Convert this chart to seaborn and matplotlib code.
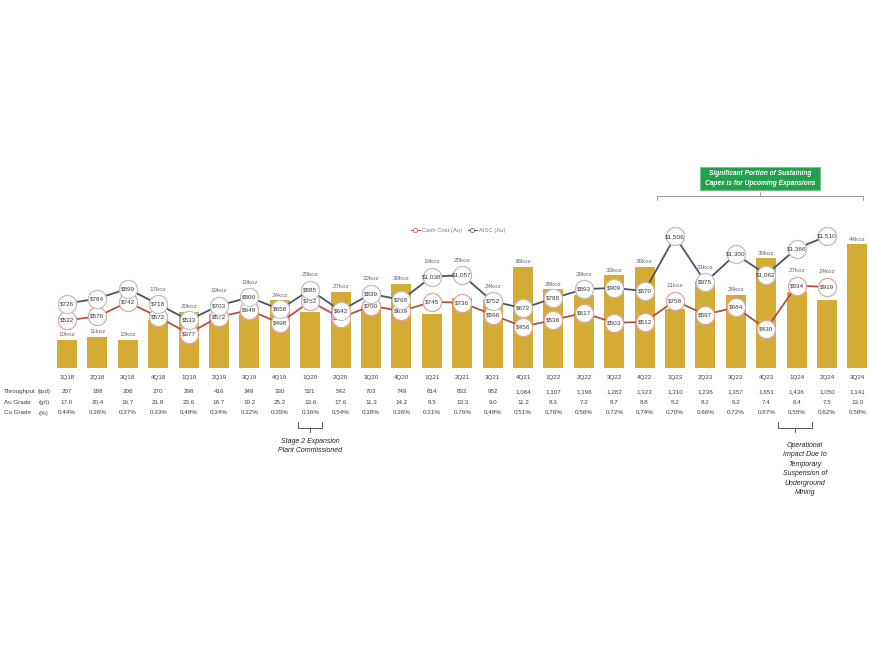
import matplotlib
matplotlib.use("Agg")
import matplotlib.pyplot as plt
from matplotlib.lines import Line2D
from matplotlib.patches import Rectangle
import numpy as np
import pandas as pd
import seaborn as sns

quarters = ["1Q18", "2Q18", "3Q18", "4Q18", "1Q19", "2Q19", "3Q19", "4Q19",
            "1Q20", "2Q20", "3Q20", "4Q20", "1Q21", "2Q21", "3Q21", "4Q21",
            "1Q22", "2Q22", "3Q22", "4Q22", "1Q23", "2Q23", "3Q23", "4Q23",
            "1Q24", "2Q24", "3Q24"]
production_koz = [10, 11, 10, 17, 20, 19, 19, 24, 20, 27, 22, 30, 19, 25, 24, 36,
                  28, 26, 33, 36, 21, 31, 26, 39, 27, 24, 44]
cash_cost = [532, 576, 742, 572, 377, 572, 649, 498, 752, 560, 700, 639, 745, 736,
             596, 456, 536, 617, 503, 512, 758, 597, 684, 430, 934, 919, np.nan]
aisc = [726, 784, 899, 718, 533, 703, 800, 658, 885, 642, 839, 768, 1038, 1057,
        752, 672, 788, 893, 909, 870, 1506, 975, 1300, 1062, 1366, 1510, np.nan]
throughput = ["207", "188", "206", "270", "298", "416", "349", "330", "521", "542",
              "703", "749", "814", "832", "952", "1,084", "1,107", "1,196", "1,282",
              "1,323", "1,310", "1,236", "1,357", "1,651", "1,436", "1,050", "1,141"]
au_grade = ["17.0", "20.4", "16.7", "21.8", "23.6", "16.7", "19.2", "25.2", "13.6",
            "17.6", "11.3", "14.2", "8.5", "10.3", "9.0", "11.2", "8.3", "7.2", "8.7",
            "8.8", "5.2", "8.2", "6.2", "7.4", "6.4", "7.5", "13.0"]
cu_grade = ["0.44%", "0.36%", "0.37%", "0.33%", "0.48%", "0.34%", "0.32%", "0.35%",
            "0.36%", "0.54%", "0.38%", "0.36%", "0.31%", "0.76%", "0.48%", "0.51%",
            "0.76%", "0.56%", "0.72%", "0.74%", "0.70%", "0.66%", "0.72%", "0.87%",
            "0.55%", "0.62%", "0.58%"]
row_labels = ["Throughput", "Au Grade", "Cu Grade"]
row_units = ["(tpd)", "(g/t)", "(%)"]

W, H = 870, 653
X0, DX = 67.0, 30.4           # pixel of first quarter, spacing
ZERO_BAR, PX_KOZ = 367.5, 2.8  # bar baseline pixel, px per koz
ZERO_LINE, PX_USD = 366.0, 0.086

def px_to_x(px):
    return (px - X0) / DX

def py_to_fig(py):
    return 1 - py / H

sns.set_theme(style="white")
plt.rcParams['font.family'] = ['Calibri', 'Carlito', 'Liberation Sans', 'DejaVu Sans']
plt.rcParams['font.family'] = ['Liberation Sans', 'DejaVu Sans']

fig = plt.figure(figsize=(W / 100, H / 100), dpi=100)
ax = fig.add_axes([0, 0, 1, 1])
ax.set_xlim(px_to_x(0), px_to_x(W))
ax.set_ylim((ZERO_BAR - H) / PX_KOZ, ZERO_BAR / PX_KOZ)
ax2 = ax.twinx()
ax2.set_ylim((ZERO_LINE - H) / PX_USD, ZERO_LINE / PX_USD)

idx = np.arange(len(quarters))
df = pd.DataFrame({"i": idx, "q": quarters, "koz": production_koz,
                   "cash": cash_cost, "aisc": aisc})

bar_color = "#D4AB35"
sns.barplot(data=df, x="i", y="koz", native_scale=True, color=bar_color,
            width=0.66, ax=ax, saturation=1, edgecolor="none")

aisc_line = "#4A5568"
cash_line = "#B5523B"
sns.lineplot(data=df, x="i", y="aisc", ax=ax2, color=aisc_line, lw=1.3,
             marker="o", markersize=13, markerfacecolor="white",
             markeredgecolor="#BFBFBF", markeredgewidth=0.8, zorder=4)
sns.lineplot(data=df, x="i", y="cash", ax=ax2, color=cash_line, lw=1.3,
             marker="o", markersize=13, markerfacecolor="white",
             markeredgecolor="#E3A6A6", markeredgewidth=0.8, zorder=3)
# redraw AISC markers so they stay on top of the cash-cost line
for vals, ec, z in [(aisc, "#BFBFBF", 6), (cash_cost, "#E3A6A6", 5)]:
    for i, v in enumerate(vals):
        if np.isnan(v):
            continue
        ax2.plot(i, v, marker="o", ms=13, mfc="white", mec=ec, mew=0.8, zorder=z)
        ax2.text(i, v, f"${v:,.0f}", ha="center", va="center", fontsize=4.6,
                 color="#3A3A3A", zorder=z + 0.5)

for a in (ax, ax2):
    a.set_axis_off()
    a.set_xlabel("")
    a.set_ylabel("")
    if a.get_legend():
        a.get_legend().remove()

# koz labels above bars (moved above circles when they collide)
R = 9.0
for i, k in enumerate(production_koz):
    top_px = ZERO_BAR - k * PX_KOZ
    ly = top_px - 5
    circles = sorted([ZERO_LINE - v * PX_USD for v in (cash_cost[i], aisc[i])
                      if not np.isnan(v)], reverse=True)
    for c in circles:
        if ly + 4 > c - R and ly - 4 < c + R:
            ly = c - R - 6
    ax.text(i, (ZERO_BAR - ly) / PX_KOZ, f"{k}koz", ha="center", va="center",
            fontsize=4.5, color="#6B6B6B")

# table
tc = "#404040"
row_py = [378, 391.5, 402.5, 413]
for i, q in enumerate(quarters):
    ax.text(i, (ZERO_BAR - row_py[0]) / PX_KOZ, q, ha="center", va="center",
            fontsize=4.5, color=tc)
for r, vals in enumerate([throughput, au_grade, cu_grade]):
    y = (ZERO_BAR - row_py[r + 1]) / PX_KOZ
    ax.text(px_to_x(4), y, row_labels[r], ha="left", va="center", fontsize=4.5, color=tc)
    ax.text(px_to_x(44), y, row_units[r], ha="center", va="center", fontsize=4.5, color=tc)
    for i, v in enumerate(vals):
        ax.text(i, y, v, ha="center", va="center", fontsize=4.5, color=tc)

def ypx(py):
    return (ZERO_BAR - py) / PX_KOZ

# brackets under table
bc = "#555555"
def bracket_down(cx, half, ytop, ybot):
    ax.plot([px_to_x(cx - half), px_to_x(cx - half), px_to_x(cx + half), px_to_x(cx + half)],
            [ypx(ytop), ypx(ybot), ypx(ybot), ypx(ytop)], color=bc, lw=0.7)
    ax.plot([px_to_x(cx), px_to_x(cx)], [ypx(ybot), ypx(ybot + 4)], color=bc, lw=0.7)

bracket_down(310, 12, 422, 428)
ax.text(px_to_x(310), ypx(446), "Stage 2 Expansion\nPlant Commissioned",
        ha="center", va="center", fontsize=5, style="italic", color="#222222",
        linespacing=1.5)
bracket_down(795, 17, 422, 428)
ax.text(px_to_x(805), ypx(469), "Operational\nImpact Due to\nTemporary\nSuspension of\nUnderground\nMining",
        ha="center", va="center", fontsize=5, style="italic", color="#222222",
        linespacing=1.5)

# top bracket and green box
ax.plot([px_to_x(657), px_to_x(657), px_to_x(863), px_to_x(863)],
        [ypx(200), ypx(196), ypx(196), ypx(200)], color="#999999", lw=0.7)
ax.plot([px_to_x(760), px_to_x(760)], [ypx(196), ypx(192)], color="#999999", lw=0.7)
fig.patches.append(Rectangle((700 / W, py_to_fig(190)), 120 / W, 23 / H,
                             transform=fig.transFigure, facecolor="#22A04B",
                             edgecolor="#6CC58A", lw=0.6))
fig.text(760 / W, py_to_fig(178.5),
         "Significant Portion of Sustaining\nCapex is for Upcoming Expansions",
         ha="center", va="center", fontsize=4.8, color="white", style="italic",
         weight="bold", linespacing=1.5)

# legend
handles = [Line2D([0], [0], color=cash_line, lw=0.8, marker="o", ms=3,
                  mfc="white", mec=cash_line, mew=0.5),
           Line2D([0], [0], color=aisc_line, lw=0.8, marker="o", ms=3,
                  mfc="white", mec=aisc_line, mew=0.5)]
fig.legend(handles, ["Cash Cost (Au)", "AISC (Au)"], loc="center",
           bbox_to_anchor=(458 / W, py_to_fig(230)), ncol=2, frameon=False,
           fontsize=4.2, handlelength=1.6, columnspacing=1.0, handletextpad=0.3,
           labelcolor="#7F7F7F")

fig.savefig("out.png", dpi=100, facecolor="white")
